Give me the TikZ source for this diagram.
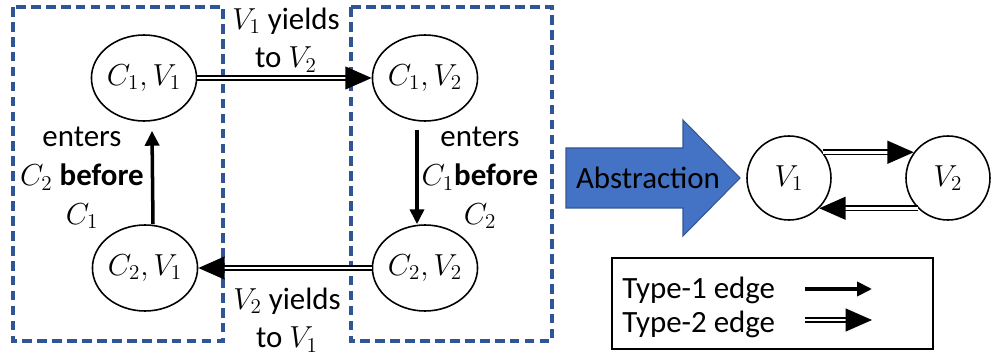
\documentclass[tikz,border=0pt]{standalone}
\usepackage{fontspec}
\setmainfont{Carlito}
\usepackage{tikz}
\usetikzlibrary{arrows.meta,shapes.geometric}
\definecolor{groupblue}{HTML}{2F5597}
\definecolor{absblue}{HTML}{4472C4}
\tikzset{
  state/.style={draw,ellipse,line width=0.9pt,inner sep=0pt,
    minimum width=1.92cm,minimum height=1.72cm},
  vstate/.style={draw,circle,line width=0.9pt,inner sep=0pt,minimum size=1.68cm},
  group/.style={draw=groupblue,line width=2pt,dash pattern=on 5.5pt off 3pt},
  lbl/.style={align=center,inner sep=0pt},
  type1/.style={line width=2pt,-{Triangle[length=8.5pt,width=8pt]}},
  type2/.style={double,line width=0.9pt,double distance=1.5pt,
    -{Triangle[length=15pt,width=13pt]}}
}

\begin{document}
\begin{tikzpicture}[x=0.02cm,y=-0.02cm,
    every node/.style={font=\fontsize{17.6}{22}\selectfont}]
  \useasboundingbox (0,0) rectangle (992,358);

  \draw[group] (13,7) rectangle (223,341);
  \draw[group] (351,7) rectangle (552,341);

  \node[state] (C1V1) at (144,78)  {$C_1,V_1$};
  \node[state] (C1V2) at (425,78)  {$C_1,V_2$};
  \node[state] (C2V1) at (145,268) {$C_2,V_1$};
  \node[state] (C2V2) at (425,268) {$C_2,V_2$};

  \draw[type2] (C1V1) -- (C1V2);
  \draw[type2] (C2V2) -- (C2V1);
  \draw[type1] ([xshift=0.16cm]C2V1.north) -- ([xshift=0.16cm,yshift=-0.18cm]C1V1.south);
  \draw[type1] ([xshift=-0.16cm,yshift=-0.16cm]C1V2.south) -- ([xshift=-0.16cm]C2V2.north);

  \node[lbl] (topyield) at (286,40)  {$V_1$ yields\\to $V_2$};
  \node[lbl] (botyield) at (287,320) {$V_2$ yields\\to $V_1$};
  \node[lbl] (leftenter) at (82,178) {enters\\$C_2$ \textbf{before}\\$C_1$};
  \node[lbl] (rightenter) at (480,178) {enters\\$C_1$\textbf{before}\\$C_2$};

  % abstraction arrow
  \filldraw[fill=absblue,draw=absblue!75!black,line width=0.6pt]
    (566,148) -- (683,148) -- (683,120) -- (740,178) -- (683,236)
    -- (683,208) -- (566,208) -- cycle;
  \node (abstr) at (648,178) {Abstraction};

  \node[vstate] (V1) at (789,178) {$V_1$};
  \node[vstate] (V2) at (948,178) {$V_2$};
  \draw[type2] (V1.37) -- (V2.143);
  \draw[type2] (V2.225) -- (V1.315);

  % legend
  \draw[line width=0.9pt] (612,258) rectangle (933,349);
  \node[anchor=west,inner sep=0pt] (type1txt) at (622,290) {Type-1 edge};
  \node[anchor=west,inner sep=0pt] (type2txt) at (622,324) {Type-2 edge};
  \coordinate (t1a) at (805,289);
  \coordinate (t1b) at (872,289);
  \coordinate (t2a) at (805,320);
  \coordinate (t2b) at (872,320);
  \draw[type1] (t1a) -- (t1b);
  \draw[type2] (t2a) -- (t2b);
\end{tikzpicture}
\end{document}
